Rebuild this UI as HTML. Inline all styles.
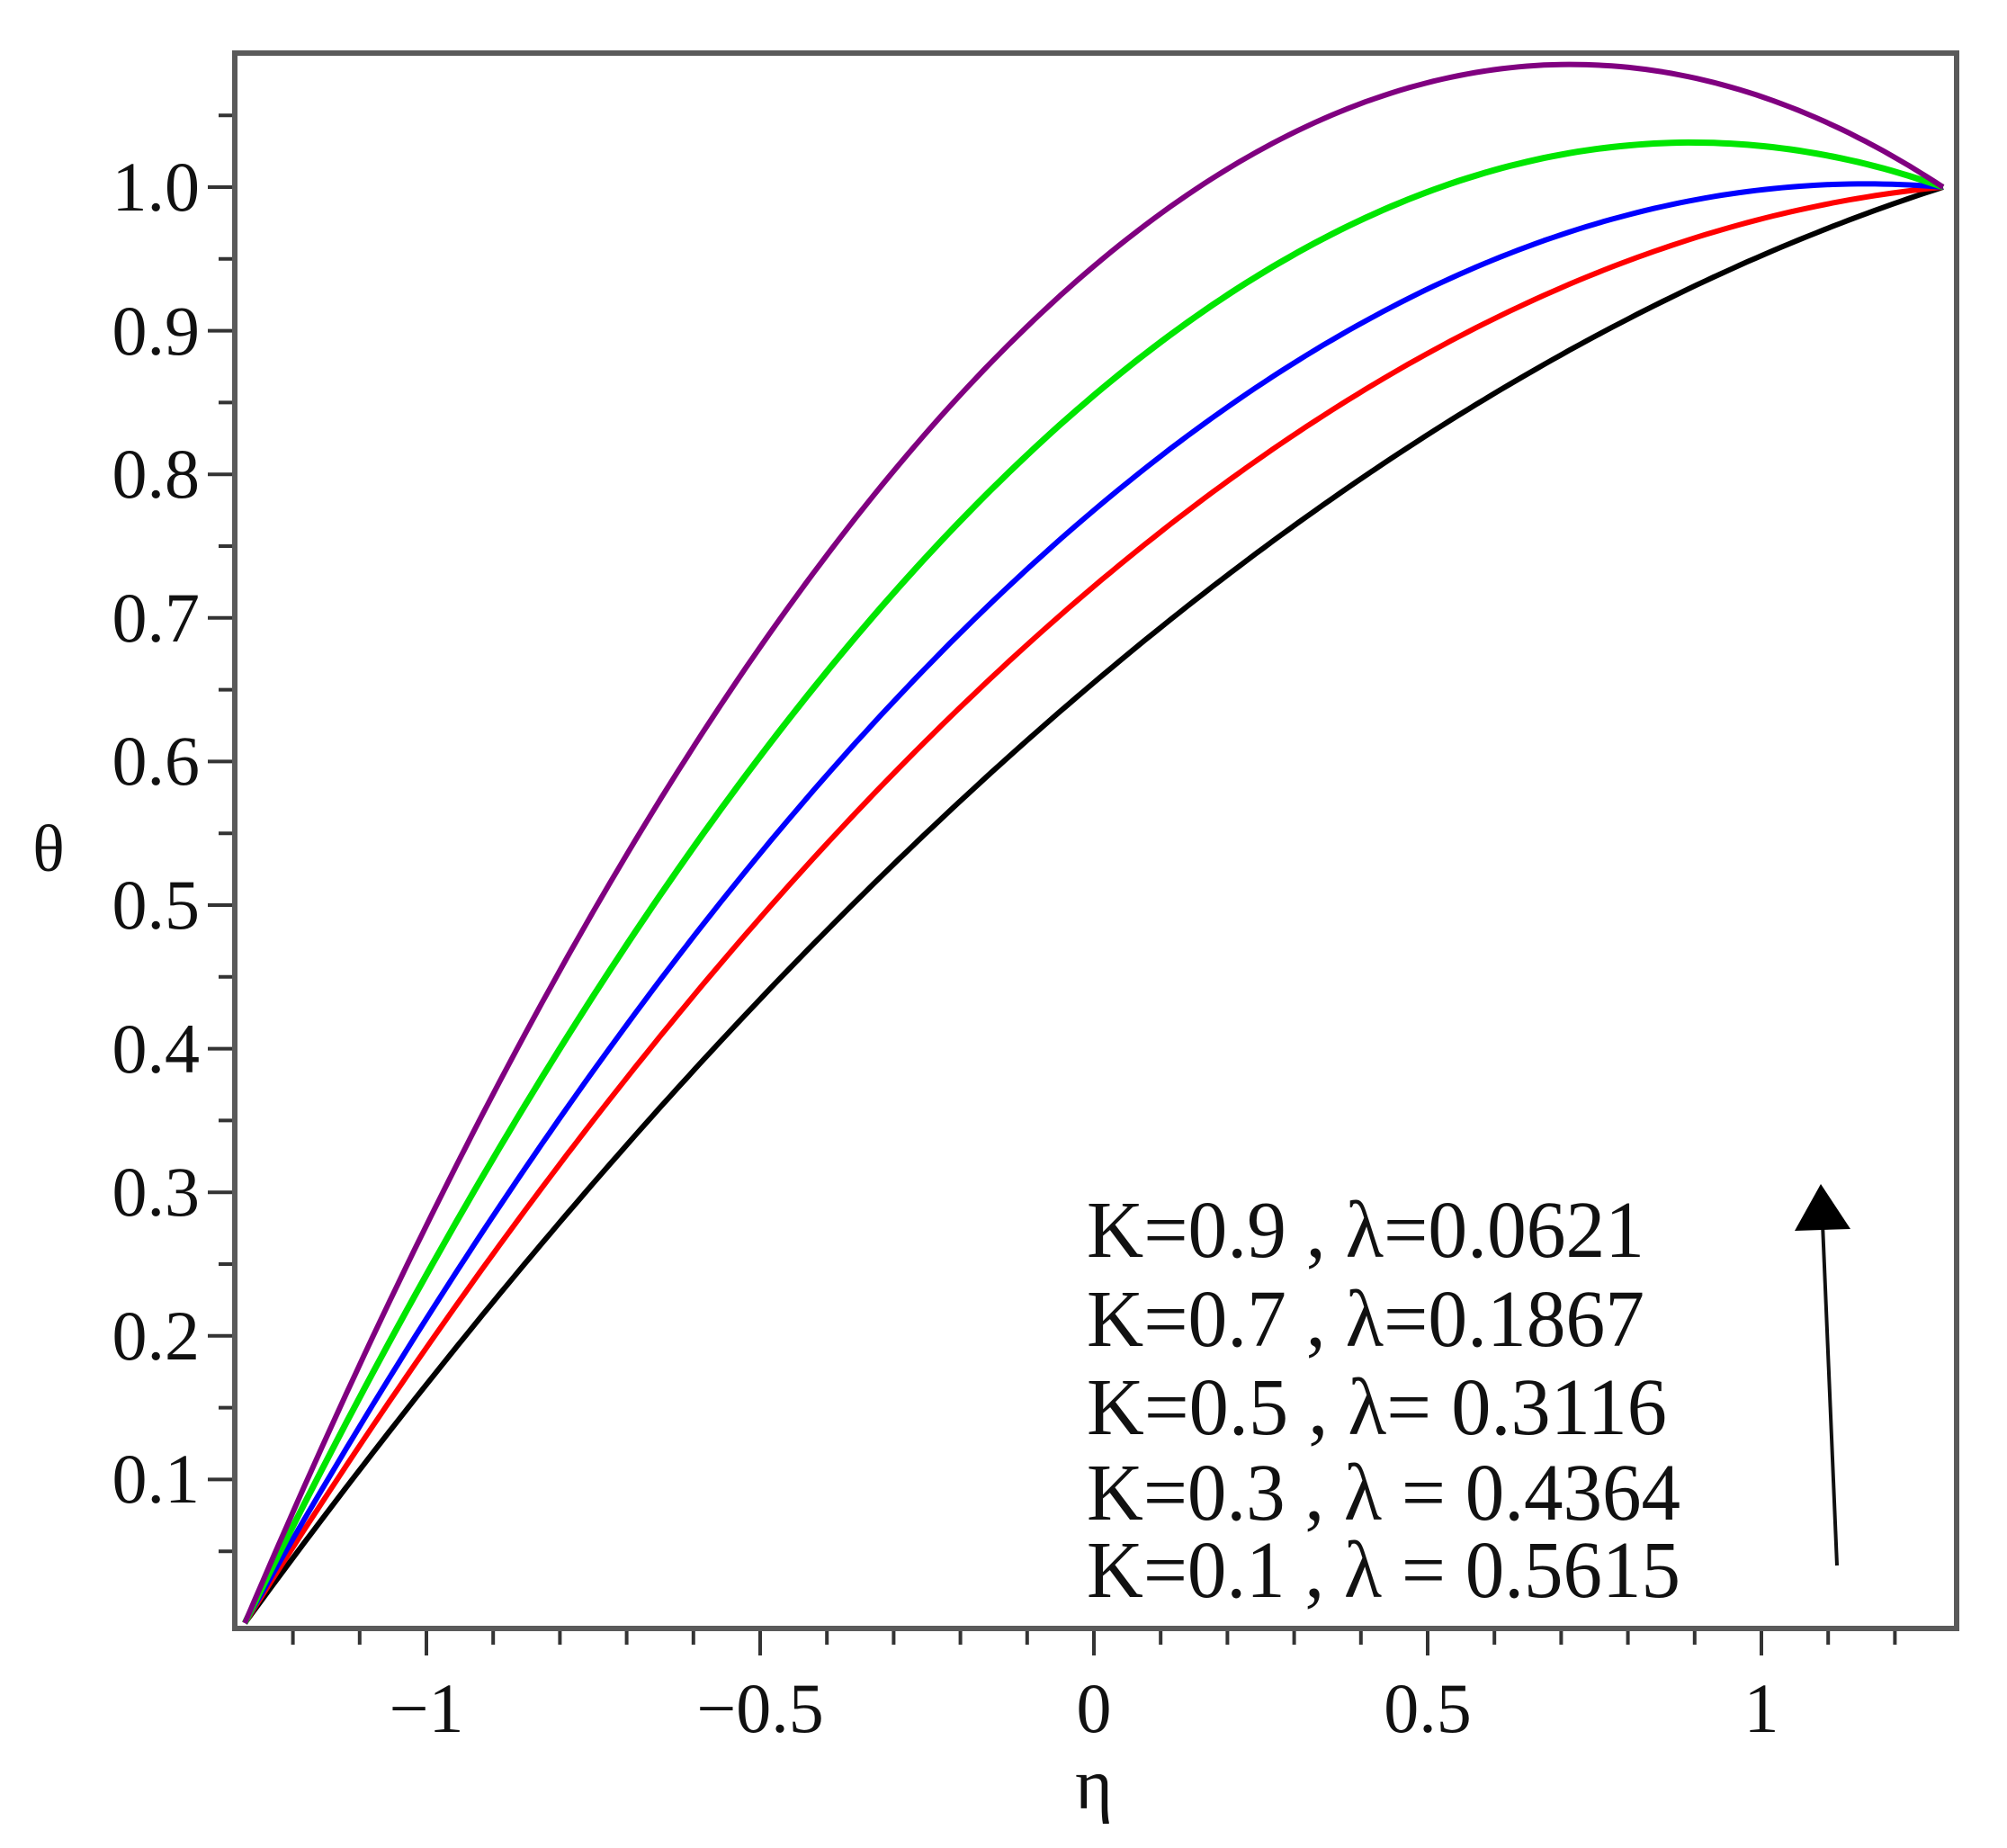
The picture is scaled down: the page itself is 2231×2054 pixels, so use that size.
<!DOCTYPE html>
<html><head><meta charset="utf-8"><style>
html,body{margin:0;padding:0;background:#fff}
svg{display:block}
text{font-family:"Liberation Serif",serif;fill:#111}
</style></head><body>
<svg id="s" width="2231" height="2054" viewBox="0 0 2231 2054" xmlns="http://www.w3.org/2000/svg">
<g id="ticks" stroke="#333" stroke-width="4"></g>
<g id="curves" fill="none" stroke-width="6" stroke-linejoin="round"></g>
<rect x="261" y="59" width="1914" height="1751" fill="none" stroke="#5a5a5a" stroke-width="6"/>
<g font-size="78" text-anchor="end">
<text x="222" y="234">1.0</text><text x="222" y="394">0.9</text><text x="222" y="553">0.8</text>
<text x="222" y="713">0.7</text><text x="222" y="872">0.6</text><text x="222" y="1032">0.5</text>
<text x="222" y="1192">0.4</text><text x="222" y="1351">0.3</text><text x="222" y="1511">0.2</text>
<text x="222" y="1670">0.1</text>
</g>
<g font-size="78" text-anchor="middle">
<text x="474" y="1925">−1</text><text x="845" y="1925">−0.5</text><text x="1216" y="1925">0</text>
<text x="1587" y="1925">0.5</text><text x="1958" y="1925">1</text>
</g>
<text x="1216" y="2010" font-size="80" text-anchor="middle">η</text>
<text x="54" y="968" font-size="74" text-anchor="middle">θ</text>
<g font-size="90">
<text x="1208" y="1397" textLength="620" lengthAdjust="spacingAndGlyphs">K=0.9  , λ=0.0621</text>
<text x="1208" y="1496" textLength="620" lengthAdjust="spacingAndGlyphs">K=0.7  , λ=0.1867</text>
<text x="1208" y="1594" textLength="645" lengthAdjust="spacingAndGlyphs">K=0.5  , λ= 0.3116</text>
<text x="1208" y="1689" textLength="660" lengthAdjust="spacingAndGlyphs">K=0.3  , λ = 0.4364</text>
<text x="1208" y="1775" textLength="660" lengthAdjust="spacingAndGlyphs">K=0.1  , λ = 0.5615</text>
</g>
<line x1="2042" y1="1740" x2="2026" y2="1360" stroke="#111" stroke-width="4"/>
<polygon points="2024,1316 1995,1368 2057,1366" fill="#000"/>
</svg>
<script>
var X0=1216,XU=742,Y0=1804,YU=1596,L=1.272;
function px(e){return X0+e*XU} function py(t){return Y0-t*YU}
var T=document.getElementById('ticks'),s='';
for(var i=1;i<=21;i++){var v=i*0.05,y=py(v),maj=(i%2==0);s+='<line x1="'+(261-(maj?30:18))+'" y1="'+y+'" x2="261" y2="'+y+'"/>';}
for(var k=-12;k<=12;k++){var x=px(k/10),maj=(k%5==0);s+='<line x1="'+x+'" y1="1810" x2="'+x+'" y2="'+(1810+(maj?30:18))+'"/>';}
T.innerHTML=s;
var C=document.getElementById('curves'),ser=[['#000',0.655,6],['#ff0000',0.722,6],['#0000ff',0.775,6],['#00e600',0.855,7],['#800080',0.945,6]],h='';
ser.forEach(function(c){var v=c[1],c1=1/(2*L),c2=(0.5-v)/(L*L),p=[];
for(var j=0;j<=200;j++){var e=-L+2*L*j/200,t=v+c1*e+c2*e*e;p.push(px(e).toFixed(1)+','+py(t).toFixed(1));}
h+='<polyline stroke="'+c[0]+'" stroke-width="'+c[2]+'" points="'+p.join(' ')+'"/>';});
C.innerHTML=h;
</script>
</body></html>
